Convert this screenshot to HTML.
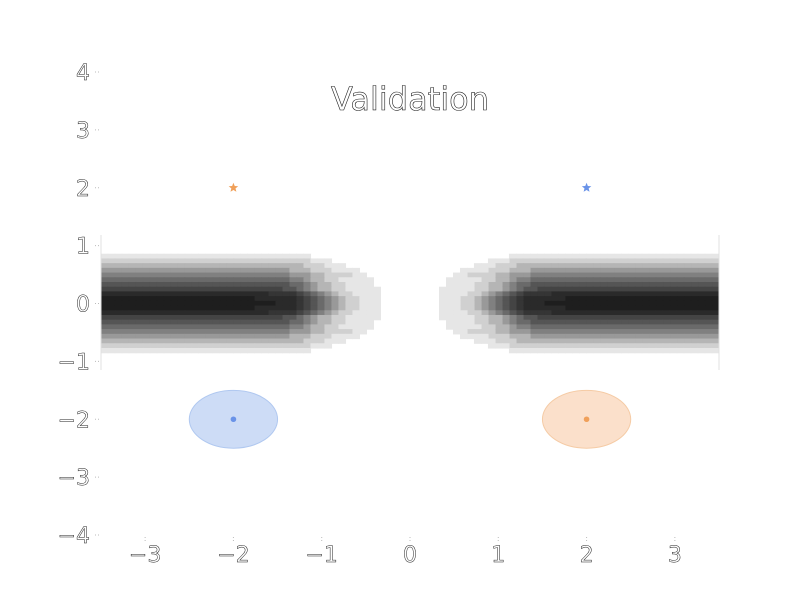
<!DOCTYPE html>
<html><head><meta charset="utf-8"><style>
html,body{margin:0;padding:0;background:#fff;}
svg text{font-family:"DejaVu Sans","Liberation Sans",sans-serif;}
</style></head><body>
<svg id="chart" width="800" height="600" viewBox="0 0 800 600" xmlns="http://www.w3.org/2000/svg">
<rect width="800" height="600" fill="#fff"/>
<g id="heat"></g>
<g id="marks"></g>
<g id="axes"></g>
<text x="410" y="110" text-anchor="middle" font-size="32" fill="#fff" stroke="#222" stroke-width="0.6">Validation</text>
</svg>
<script>
// Axis ranges
const xDomain = [-3.5, 3.5];
const yDomain = [-4, 4];
const xTicks = [-3, -2, -1, 0, 1, 2, 3];
const yTicks = [4, 3, 2, 1, 0, -1, -2, -3, -4];
const xTickLabels = ["\u22123", "\u22122", "\u22121", "0", "1", "2", "3"];
const yTickLabels = ["4", "3", "2", "1", "0", "\u22121", "\u22122", "\u22123", "\u22124"];
// Heatmap (left half; right half is its mirror)
const heatXRange = [-3.5, -0.332];
const heatYRange = [-0.855, 0.855];
const heatRowsTop = [
  "1111111111111111111111111111110000000000",
  "2222222222222222222222222222221110000000",
  "3333333333333333333333333333322211100000",
  "4444444444444444444444444443332221111000",
  "5555555555555555555555555554443322221100",
  "6666666666666666666666666665543322111110",
  "7777777777777777777777777776654332211110",
  "8888888888888888888888888877654332211111",
  "aaaaaaaaaaaaaaaaaaaaaaaa9999876543221111",
  "bbbbbbbbbbbbbbbbbbbbbbaaaaaa987654322111",
  "bbbbbbbbbbbbbbbbbbbbbbbbbaaa987654322111"
];
const levelColors = {"1":"#e6e6e6","2":"#d0d0d0","3":"#b5b5b5","4":"#999999","5":"#808080","6":"#6a6a6a","7":"#555555","8":"#444444","9":"#353535","a":"#2a2a2a","b":"#1e1e1e"};
// Points
const starX = [-2, 2];
const starY = [2, 2];
const starColors = ["#f0a05a", "#6a93e8"];
const ellX = [-2, 2];
const ellY = [-2, -2];
const ellR = [0.5, 0.5];
const ellFill = ["#cddcf6", "#fbe0cb"];
const ellStroke = ["#b0c8f0", "#f5cba5"];
const ellDot = ["#6a93e8", "#f0a05a"];

const L = 101, R = 719, T = 72, B = 535;
const sx = v => L + (v - xDomain[0]) / (xDomain[1] - xDomain[0]) * (R - L);
const sy = v => B - (v - yDomain[0]) / (yDomain[1] - yDomain[0]) * (B - T);
const NS = "http://www.w3.org/2000/svg";
function mk(tag, attrs, parent) {
  const e = document.createElementNS(NS, tag);
  for (const k in attrs) e.setAttribute(k, attrs[k]);
  parent.appendChild(e);
  return e;
}
// heatmap
const heat = document.getElementById('heat');
const rows = heatRowsTop.concat(heatRowsTop.slice(0, heatRowsTop.length - 1).reverse());
const nR = rows.length, nC = rows[0].length;
const cw = (heatXRange[1] - heatXRange[0]) / nC;
const rh = (heatYRange[1] - heatYRange[0]) / nR;
rows.forEach((row, r) => {
  for (let c = 0; c < nC; c++) {
    const lv = row[c];
    if (lv === "0") continue;
    const x0 = heatXRange[0] + c * cw, x1 = x0 + cw;
    const y1 = heatYRange[1] - r * rh, y0 = y1 - rh;
    [[x0, x1], [-x1, -x0]].forEach(([a, b]) => {
      const el = mk('rect', {x: sx(a) - 0.3, y: sy(y1) - 0.3, width: sx(b) - sx(a) + 0.6, height: sy(y0) - sy(y1) + 0.6, fill: levelColors[lv]}, heat);
      
      
    });
  }
});
// markers
const marks = document.getElementById('marks');
function starPath(cx, cy, ro, ri) {
  let d = "";
  for (let i = 0; i < 10; i++) {
    const a = -Math.PI / 2 + i * Math.PI / 5, rr = i % 2 ? ri : ro;
    d += (i ? "L" : "M") + (cx + rr * Math.cos(a)).toFixed(2) + " " + (cy + rr * Math.sin(a)).toFixed(2);
  }
  return d + "Z";
}
starX.forEach((v, i) => {
  const el = mk('path', {d: starPath(sx(v), sy(starY[i]), 5, 2.2), fill: starColors[i]}, marks);
  
  
});
ellX.forEach((v, i) => {
  const e = mk('ellipse', {cx: sx(v), cy: sy(ellY[i]), rx: sx(ellR[i]) - sx(0), ry: sy(0) - sy(ellR[i]), fill: ellFill[i], stroke: ellStroke[i], 'stroke-width': 1}, marks);
  
  
  const d = mk('circle', {cx: sx(v), cy: sy(ellY[i]), r: 2.8, fill: ellDot[i]}, marks);
  
  
});
// axes
const axes = document.getElementById('axes');
[L, R].forEach(x => {
  const s = mk('line', {x1: x, x2: x, y1: 235, y2: 370, stroke: "#e0e0e0", 'stroke-width': 1}, axes);
  
  
});
yTicks.forEach((v, i) => {
  const t = mk('line', {x1: L - 6, x2: L - 2, y1: sy(v), y2: sy(v), stroke: "#bbb", 'stroke-width': 1, 'stroke-dasharray': "1 2"}, axes);
  
  
  const tx = mk('text', {x: 90, y: sy(v) + 8, 'text-anchor': 'end', 'font-size': 22, fill: '#fff', stroke: '#222', 'stroke-width': 0.5}, axes);
  tx.textContent = yTickLabels[i];
  
  
});
xTicks.forEach((v, i) => {
  const t = mk('line', {x1: sx(v), x2: sx(v), y1: B + 2, y2: B + 6, stroke: "#bbb", 'stroke-width': 1, 'stroke-dasharray': "1 2"}, axes);
  
  
  const tx = mk('text', {x: sx(v), y: 562, 'text-anchor': 'middle', 'font-size': 22, fill: '#fff', stroke: '#222', 'stroke-width': 0.5}, axes);
  tx.textContent = xTickLabels[i];
  
  
});
</script>
</body></html>
